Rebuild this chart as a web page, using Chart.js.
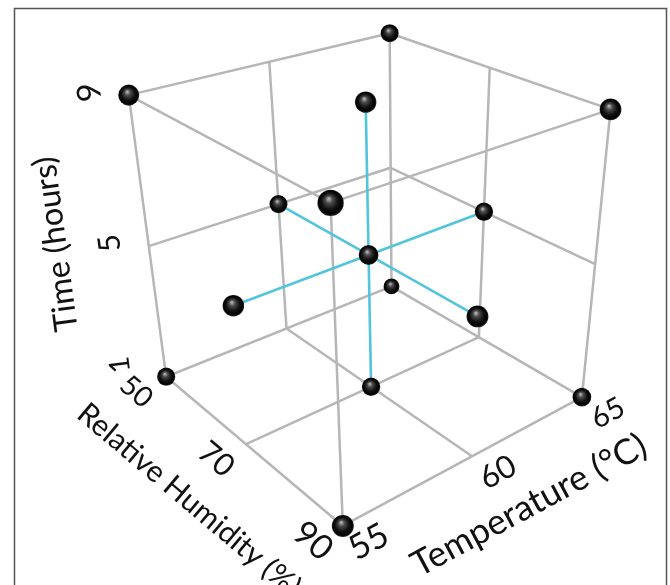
<!DOCTYPE html>
<html>
<head>
<meta charset="utf-8">
<title>Central composite design</title>
<script src="https://cdn.jsdelivr.net/npm/chart.js@4.4.1/dist/chart.umd.min.js"></script>
<style>
  html, body { margin: 0; padding: 0; background: #fff; }
  canvas { display: block; }
</style>
</head>
<body>
<canvas id="ccdChart" width="670" height="585"></canvas>
<script>
// Design runs: 8 corners, 6 face centres, 1 centre point
const temperature = [55, 65, 55, 65, 55, 65, 55, 65, 55, 65, 60, 60, 60, 60, 60];
const humidity    = [50, 50, 90, 90, 50, 50, 90, 90, 70, 70, 50, 90, 70, 70, 70];
const hours       = [1, 1, 1, 1, 9, 9, 9, 9, 5, 5, 5, 5, 1, 9, 5];

const tempTicks = [55, 60, 65];
const humTicks = [50, 70, 90];
const timeTicks = [1, 5, 9];

const tempTitle = 'Temperature (°C)';
const humTitle = 'Relative Humidity (%)';
const timeTitle = 'Time (hours)';

// camera for the 3D view (cube is normalised to [-1, 1])
const camera = { focal: 1105, cx: 405, cy: 327, elev: 30.9, azim: 130, eye: [-3.813, 4.901, 3.185] };
const deg = Math.PI / 180;
const E = camera.elev * deg, A = camera.azim * deg;
const fwd = [-Math.cos(E) * Math.cos(A), -Math.cos(E) * Math.sin(A), -Math.sin(E)];
const right = [Math.sin(A), -Math.cos(A), 0];
const up = [-Math.sin(E) * Math.cos(A), -Math.sin(E) * Math.sin(A), Math.cos(E)];
const dot = (a, b) => a[0] * b[0] + a[1] * b[1] + a[2] * b[2];

function norm(v, ticks) {
  const lo = ticks[0], hi = ticks[ticks.length - 1];
  return 2 * (v - lo) / (hi - lo) - 1;
}

function project(t, h, m) {
  const p = [norm(t, tempTicks), norm(h, humTicks), norm(m, timeTicks)];
  const v = [p[0] - camera.eye[0], p[1] - camera.eye[1], p[2] - camera.eye[2]];
  const zc = dot(v, fwd);
  return {
    x: camera.cx + camera.focal * dot(v, right) / zc,
    y: camera.cy - camera.focal * dot(v, up) / zc,
    depth: zc
  };
}

const [tLo, tMid, tHi] = tempTicks;
const [hLo, hMid, hHi] = humTicks;
const [mLo, mMid, mHi] = timeTicks;

// box edges
const boxLines = [];
const corners = [];
[tLo, tHi].forEach(t => [hLo, hHi].forEach(h => [mLo, mHi].forEach(m => corners.push([t, h, m]))));
corners.forEach((a, i) => corners.forEach((b, j) => {
  if (j <= i) return;
  const diff = a.filter((v, k) => v !== b[k]).length;
  if (diff === 1) boxLines.push([a, b]);
}));

// grid lines on the floor and the two back walls
const gridLines = [
  [[tMid, hLo, mLo], [tMid, hLo, mHi]],
  [[tLo, hLo, mMid], [tHi, hLo, mMid]],
  [[tHi, hMid, mLo], [tHi, hMid, mHi]],
  [[tHi, hLo, mMid], [tHi, hHi, mMid]],
  [[tMid, hLo, mLo], [tMid, hHi, mLo]],
  [[tLo, hMid, mLo], [tHi, hMid, mLo]]
];

// axial runs joined to the centre run
const centre = [tMid, hMid, mMid];
const axialLines = [];
temperature.forEach((t, i) => {
  const p = [t, humidity[i], hours[i]];
  const mids = p.filter((v, k) => v === centre[k]).length;
  if (mids === 2) axialLines.push([centre, p]);
});

function segDataset(seg, color, width, order) {
  const a = project(...seg[0]), b = project(...seg[1]);
  return {
    data: [{ x: a.x, y: a.y }, { x: b.x, y: b.y }],
    showLine: true,
    borderColor: color,
    borderWidth: width,
    pointRadius: 0,
    order: order
  };
}

// points sorted far to near so the near ones sit on top
const runPoints = temperature.map((t, i) => {
  const p = project(t, humidity[i], hours[i]);
  return { x: p.x, y: p.y, r: 69 / p.depth, depth: p.depth };
}).sort((a, b) => b.depth - a.depth);

function sphereFill(ctx) {
  const raw = ctx.raw;
  if (!raw) return '#000';
  const chart = ctx.chart;
  const x = chart.scales.x.getPixelForValue(raw.x);
  const y = chart.scales.y.getPixelForValue(raw.y);
  const r = raw.r;
  if (![x, y, r].every(Number.isFinite)) return '#000';
  const g = chart.ctx.createRadialGradient(x - r * 0.15, y - r * 0.32, r * 0.05, x, y, r);
  g.addColorStop(0, '#b0b0b0');
  g.addColorStop(0.25, '#4a4a4a');
  g.addColorStop(0.6, '#121212');
  g.addColorStop(0.88, '#000');
  g.addColorStop(1, '#303030');
  return g;
}

const datasets = [];
datasets.push({
  data: runPoints,
  pointRadius: runPoints.map(p => p.r),
  pointBackgroundColor: sphereFill,
  pointBorderWidth: 0,
  showLine: false,
  order: 0
});
axialLines.forEach(s => datasets.push(segDataset(s, '#52c4dc', 2.6, 1)));
boxLines.concat(gridLines).forEach(s => datasets.push(segDataset(s, '#b6b6b6', 2.5, 2)));

// text next to the axes
const axisText = {
  id: 'axisText',
  beforeDraw(chart) {
    const c = chart.ctx;
    c.save();
    c.fillStyle = '#fff';
    c.fillRect(0, 0, chart.width, chart.height);
    c.strokeStyle = '#555';
    c.lineWidth = 1.5;
    c.strokeRect(14.5, 8.5, 652, 620);
    c.restore();
  },
  afterDatasetsDraw(chart) {
    const c = chart.ctx;
    const sx = chart.scales.x, sy = chart.scales.y;
    const px = p => ({ x: sx.getPixelForValue(p.x), y: sy.getPixelForValue(p.y), depth: p.depth });
    const angleOf = (a, b) => Math.atan2(b.y - a.y, b.x - a.x);
    const fontOf = size => size + 'px Lato, "Open Sans", sans-serif';
    // fitLen: squeeze the title to the length it has in the picture
    const put = (txt, p, dx, dy, ang, size, fitLen) => {
      c.save();
      c.font = fontOf(size);
      if (fitLen) {
        const w = c.measureText(txt).width;
        c.font = fontOf(Math.round(size * fitLen / w * 10) / 10);
      }
      c.translate(p.x + dx, p.y + dy);
      c.rotate(ang);
      c.fillStyle = '#111';
      c.textAlign = 'center';
      c.textBaseline = 'middle';
      c.fillText(txt, 0, 0);
      c.restore();
    };
    // tick text shrinks with distance like the spheres do
    const tickSize = p => Math.round(215 / p.depth * 10) / 10;

    const timeA = px(project(tLo, hLo, mLo)), timeB = px(project(tLo, hLo, mHi));
    const timeAng = angleOf(timeA, timeB);
    timeTicks.forEach(v => {
      const p = px(project(tLo, hLo, v));
      put(String(v), p, v === mLo ? -46 : -39, v === mLo ? -12 : -3, timeAng, tickSize(p));
    });
    put(timeTitle, px(project(tLo, hLo, mMid)), -93, -2, timeAng, 32, 176);

    const humA = px(project(tLo, hLo, mLo)), humB = px(project(tLo, hHi, mLo));
    const humAng = angleOf(humA, humB);
    humTicks.forEach(v => {
      const p = px(project(tLo, v, mLo));
      put(String(v), p, -30, 15, humAng, tickSize(p));
    });
    put(humTitle, px(project(tLo, hMid, mLo)), -57, 56, humAng, 30, 282);

    const tA = px(project(tLo, hHi, mLo)), tB = px(project(tHi, hHi, mLo));
    const tAng = angleOf(tA, tB);
    tempTicks.forEach(v => {
      const p = px(project(v, hHi, mLo));
      put(String(v), p, 26, 16, tAng, tickSize(p));
    });
    put(tempTitle, px(project(tMid, hHi, mLo)), 57, 49, tAng, 32, 262);
  }
};

new Chart(document.getElementById('ccdChart').getContext('2d'), {
  type: 'scatter',
  data: { datasets: datasets },
  options: {
    responsive: false,
    animation: false,
    events: [],
    layout: { padding: 0, autoPadding: false },
    plugins: { legend: { display: false }, tooltip: { enabled: false } },
    scales: {
      x: { type: 'linear', min: 0, max: 670, display: false },
      y: { type: 'linear', min: 0, max: 585, reverse: true, display: false }
    }
  },
  plugins: [axisText]
});
</script>
</body>
</html>
